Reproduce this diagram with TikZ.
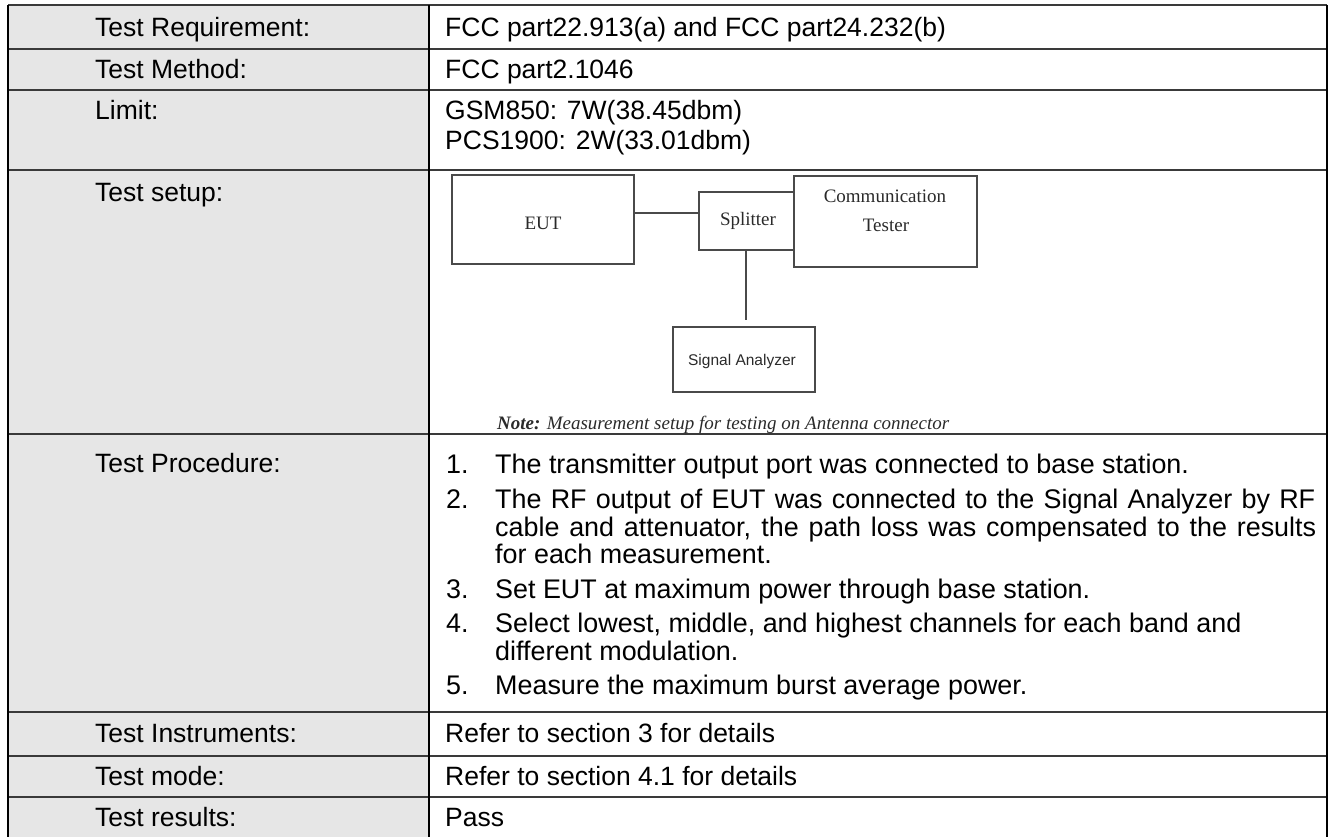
\documentclass[tikz,border=0pt]{standalone}
\usepackage{fontspec}
\setmainfont{Liberation Sans}
\newfontfamily\seriffont{Liberation Serif}
\definecolor{lgray}{HTML}{E6E6E6}
\definecolor{grid}{HTML}{3A3A3A}
\definecolor{boxline}{HTML}{4A4A4A}
\definecolor{dtext}{HTML}{2A2A2A}
\begin{document}
\begin{tikzpicture}[x=1pt,y=-1pt,
  tbl/.style={font=\fontsize{26.5}{30}\selectfont, anchor=base west, inner sep=0pt, text=black},
  proc/.style={font=\fontsize{26.9}{30}\selectfont, anchor=base west, inner sep=0pt, text=black},
  rule/.style={draw=grid, line width=1.6pt},
  eqbox/.style={draw=boxline, line width=1.1pt, minimum width=#1, inner sep=0pt},
  dlabel/.style={font=\seriffont\fontsize{19}{22}\selectfont, text=dtext, inner sep=0pt},
  wire/.style={draw=boxline, line width=1.1pt}]
\useasboundingbox (0,0) rectangle (1330,837);
% left column fill
\fill[lgray] (8,5) rectangle (429,837);
% horizontal rules
\foreach \yy in {5,49,90,170,434,712,756,797}
  \draw[rule] (8,\yy) -- (1327,\yy);
% vertical rules
\draw[rule, draw=black] (8,5) -- (8,837);
\draw[rule, draw=black] (429,5) -- (429,837);
\draw[rule, draw=black] (1327,5) -- (1327,837);
% labels
\node[tbl] (l1) at (95,37) {Test Requirement:};
\node[tbl] (l2) at (95,79) {Test Method:};
\node[tbl] (l3) at (95,120) {Limit:};
\node[tbl] (l4) at (95,202) {Test setup:};
\node[tbl] (l5) at (95,472) {Test Procedure:};
\node[tbl] (l6) at (95,742) {Test Instruments:};
\node[tbl] (l7) at (95,785) {Test mode:};
\node[tbl] (l8) at (95,826) {Test results:};
% contents
\node[tbl] (c1) at (445,37) {FCC part22.913(a) and FCC part24.232(b)};
\node[tbl] (c2) at (445,79) {FCC part2.1046};
\node[tbl] (c3a) at (445,120) {GSM850: 7W(38.45dbm)};
\node[tbl] (c3b) at (445,150) {PCS1900: 2W(33.01dbm)};
% procedure
\node[proc] (n1) at (446,473) {1.};
\node[proc] (p1) at (495,473) {The transmitter output port was connected to base station.};
\node[proc] (n2) at (446,508) {2.};
\node[proc] (p2a) at (495,508) {\makebox[820pt][s]{The RF output of EUT was connected to the Signal Analyzer by RF}};
\node[proc] (p2b) at (495,536) {\makebox[821pt][s]{cable and attenuator, the path loss was compensated to the results}};
\node[proc] (p2c) at (495,563) {for each measurement.};
\node[proc] (n3) at (446,598) {3.};
\node[proc] (p3) at (495,598) {Set EUT at maximum power through base station.};
\node[proc] (n4) at (446,632) {4.};
\node[proc] (p4a) at (495,632) {Select lowest, middle, and highest channels for each band and};
\node[proc] (p4b) at (495,660) {different modulation.};
\node[proc] (n5) at (446,694) {5.};
\node[proc] (p5) at (495,694) {Measure the maximum burst average power.};
\node[tbl] (c6) at (445,742) {Refer to section 3 for details};
\node[tbl] (c7) at (445,785) {Refer to section 4.1 for details};
\node[tbl] (c8) at (445,826) {Pass};
% setup diagram
\node[eqbox=182pt, minimum height=89pt] (eut) at (543,219.5) {};
\node[dlabel] (eutt) at (543,223) {EUT};
\node[eqbox=95pt, minimum height=58pt] (spl) at (746.5,221) {};
\node[dlabel] (splt) at (748,221) {Splitter};
\node[eqbox=183pt, minimum height=91pt] (ct) at (885.5,221.5) {};
\node[dlabel] (ct1) at (885,196) {Communication};
\node[dlabel] (ct2) at (886,225) {Tester};
\node[eqbox=142pt, minimum height=65pt] (sa) at (744,359.5) {};
\node[font=\fontsize{15.5}{18}\selectfont, text=dtext, inner sep=0pt] (sat) at (742,361) {Signal Analyzer};
\coordinate (vend) at (746,320);
\draw[wire] (eut.east |- 0,213) -- (spl.west |- 0,213);
\draw[wire] (spl.south -| 746,0) -- (vend);
\node[font=\seriffont\itshape\fontsize{19}{22}\selectfont, text=dtext, anchor=base west, inner sep=0pt] (note) at (497,429) {\textbf{Note:} Measurement setup for testing on Antenna connector};
\end{tikzpicture}
\end{document}
